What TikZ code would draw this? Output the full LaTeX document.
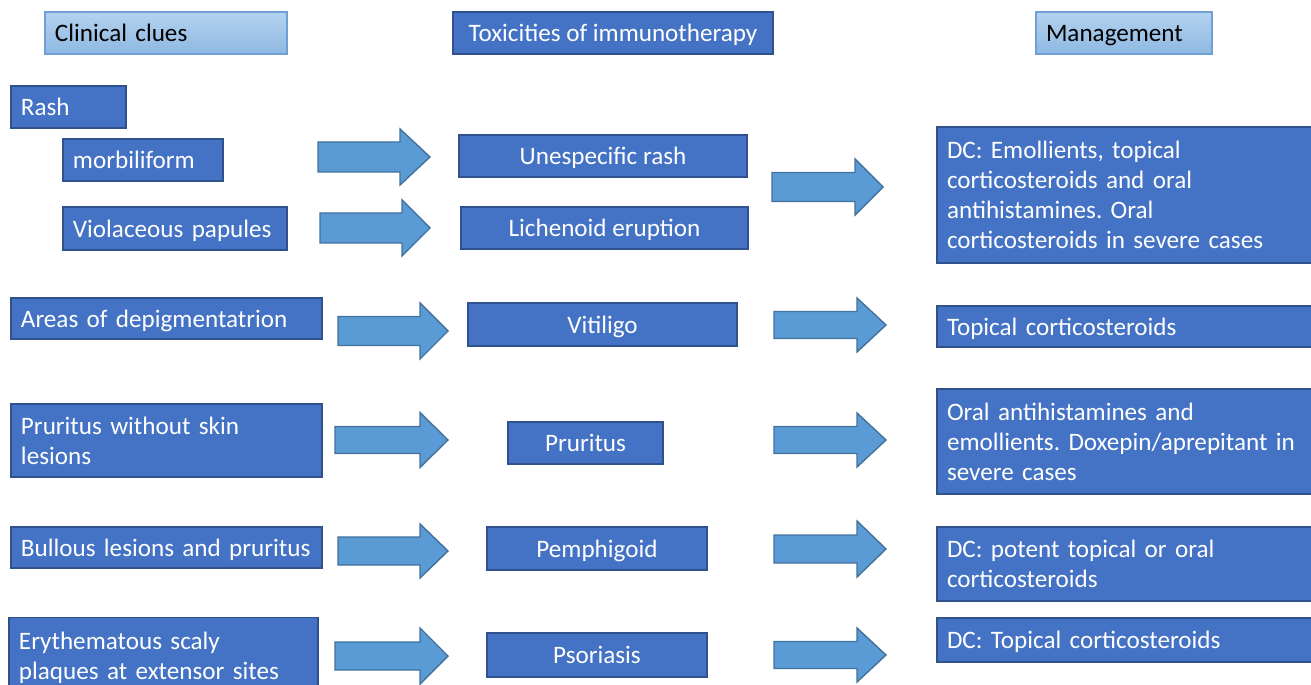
\documentclass[tikz,border=0pt]{standalone}
\usepackage{fontspec}
\setmainfont{Carlito}
\frenchspacing
\definecolor{boxfill}{HTML}{4472C4}
\definecolor{boxline}{HTML}{2F528F}
\definecolor{arrfill}{HTML}{5B9BD5}
\definecolor{arrline}{HTML}{41719C}
\definecolor{hdtop}{HTML}{B4D2EE}
\definecolor{hdbot}{HTML}{8EB8E2}
\definecolor{hdline}{HTML}{6F9FD4}
\newcommand\blockarrow[6]{%
  \draw[arr] (#1,#4-#5) -- (#3,#4-#5) -- (#3,#4-#6) -- (#2,#4) -- (#3,#4+#6) -- (#3,#4+#5) -- (#1,#4+#5) -- cycle;}
\tikzset{
  base/.style={line width=0.9pt, inner xsep=0.2cm, inner ysep=0pt, font=\fontsize{14.3}{17.1}\selectfont},
  one/.style={text height=13.5pt, text depth=3.5pt},
  dbox/.style={base, draw=boxline, fill=boxfill, text=white},
  hbox/.style={base, draw=hdline, top color=hdtop, bottom color=hdbot, text=black},
  L/.style={align=left, text width=#1*0.02cm-0.4cm, minimum width=#1*0.02cm},
  C/.style={align=center, minimum width=#1*0.02cm},
  H/.style={minimum height=#1*0.02cm},
  arr/.style={draw=arrline, fill=arrfill, line width=0.8pt, line join=miter}
}
\begin{document}
\begin{tikzpicture}[x=0.02cm, y=-0.02cm]
\clip (0,0) rectangle (1311,685);
\fill[white] (0,0) rectangle (1311,685);
% headers
\node[hbox, one, L=242, H=42] (h1) at (166,33) {Clinical clues};
\node[dbox, one, C=320, H=42] (h2) at (613,33) {Toxicities of immunotherapy};
\node[hbox, one, L=176, H=42] (h3) at (1124,33) {Management};
% clinical clues
\node[dbox, one, L=115, H=42] (rash) at (68.5,107) {Rash};
\node[dbox, one, L=160, H=42] (morb) at (143,160) {morbiliform};
\node[dbox, one, L=224, H=43] (viol) at (175,228.5) {Violaceous papules};
\node[dbox, one, L=311, H=41] (depig) at (166.5,318.5) {Areas of depigmentatrion};
\node[dbox, L=311, H=73] (prw) at (166.5,440.5) {Pruritus without skin\\lesions};
\node[dbox, one, L=311, H=41] (bull) at (166.5,547.5) {Bullous lesions and pruritus};
\node[dbox, L=309, H=81] (ery) at (163.5,658) {Erythematous scaly\\plaques at extensor sites};
% toxicities
\node[dbox, one, C=288, H=42] (unesp) at (603,156) {Unespecific rash};
\node[dbox, one, C=287, H=42] (lich) at (604.5,228) {Lichenoid eruption};
\node[dbox, one, C=269, H=43] (vit) at (602.5,324.5) {Vitiligo};
\node[dbox, one, C=155, H=42] (prur) at (585.5,443) {Pruritus};
\node[dbox, one, C=220, H=43] (pemph) at (597,548.5) {Pemphigoid};
\node[dbox, one, C=220, H=44] (psor) at (597,655) {Psoriasis};
% management
\node[dbox, L=380, H=136] (m1) at (1127,195) {DC: Emollients, topical\\corticosteroids and oral\\antihistamines. Oral\\corticosteroids in severe cases};
\node[dbox, one, L=380, H=41] (m2) at (1127,326.5) {Topical corticosteroids};
\node[dbox, L=380, H=105] (m3) at (1127,441.5) {Oral antihistamines and\\emollients. Doxepin/aprepitant in\\severe cases};
\node[dbox, L=380, H=74] (m4) at (1127,564) {DC: potent topical or oral\\corticosteroids};
\node[dbox, one, L=380, H=44] (m5) at (1127,640) {DC: Topical corticosteroids};
% arrows
\blockarrow{318}{430}{400}{157}{15}{28}
\blockarrow{320}{430}{402}{228}{15}{28}
\blockarrow{772}{883}{855}{187}{14.5}{28}
\blockarrow{338}{448}{420}{331}{14.5}{28}
\blockarrow{774}{886}{857}{325}{13.5}{27}
\blockarrow{335}{448}{420}{440}{13.5}{27.5}
\blockarrow{774}{886}{857}{440}{13.5}{27}
\blockarrow{338}{448}{420}{551}{14}{27}
\blockarrow{774}{886}{857}{549}{14}{28}
\blockarrow{335}{448}{420}{656}{14}{28}
\blockarrow{774}{886}{857}{655}{13.5}{27}
\end{tikzpicture}
\end{document}
